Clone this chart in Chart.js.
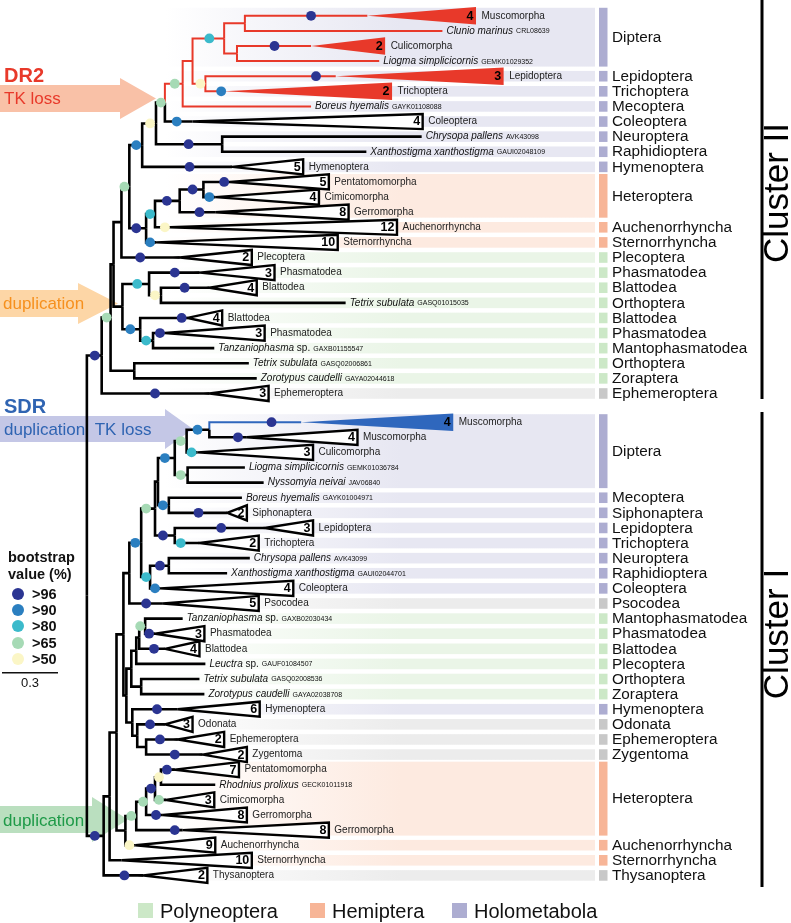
<!DOCTYPE html>
<html><head><meta charset="utf-8">
<script src="https://cdn.jsdelivr.net/npm/chart.js@4/dist/chart.umd.min.js"></script>
<style>html,body{margin:0;padding:0;background:#fff;}canvas{display:block;}</style>
</head><body>
<canvas id="c" width="791" height="923"></canvas>
<script>
// ---------------- DATA ----------------
// leaves, top to bottom (0-25 Cluster II, 26-56 Cluster I)
const leafLabel = [
 'Muscomorpha','Clunio marinus','Culicomorpha','Liogma simplicicornis','Lepidoptera','Trichoptera','Boreus hyemalis','Coleoptera','Chrysopa pallens','Xanthostigma xanthostigma',
 'Hymenoptera','Pentatomomorpha','Cimicomorpha','Gerromorpha','Auchenorrhyncha','Sternorrhyncha','Plecoptera','Phasmatodea','Blattodea','Tetrix subulata',
 'Blattodea','Phasmatodea','Tanzaniophasma sp.','Tetrix subulata','Zorotypus caudelli','Ephemeroptera','Muscomorpha','Muscomorpha','Culicomorpha','Liogma simplicicornis',
 'Nyssomyia neivai','Boreus hyemalis','Siphonaptera','Lepidoptera','Trichoptera','Chrysopa pallens','Xanthostigma xanthostigma','Coleoptera','Psocodea','Tanzaniophasma sp.',
 'Phasmatodea','Blattodea','Leuctra sp.','Tetrix subulata','Zorotypus caudelli','Hymenoptera','Odonata','Ephemeroptera','Zygentoma','Pentatomomorpha',
 'Rhodnius prolixus','Cimicomorpha','Gerromorpha','Gerromorpha','Auchenorrhyncha','Sternorrhyncha','Thysanoptera'];
const leafCode = [
 '','CRL08639','','GEMK01029352','','','GAYK01108088','','AVK43098','GAUI02048109',
 '','','','','','','','','','GASQ01015035',
 '','','GAXB01155547','GASQ02006861','GAYA02044618','','','','','GEMK01036784',
 'JAV06840','GAYK01004971','','','','AVK43099','GAUI02044701','','','GAXB02030434',
 '','','GAUF01084507','GASQ02008536','GAYA02038708','','','','','',
 'GECK01011918','','','','','',''];
// number of sequences in a collapsed clade (0 = single sequence)
const leafCount = [
 4,0,2,0,3,2,0,4,0,0,
 5,5,4,8,12,10,2,3,4,0,
 4,3,0,0,0,3,4,4,3,0,
 0,0,2,3,2,0,0,4,5,0,
 3,4,0,0,0,6,3,2,2,7,
 0,3,8,8,9,10,2];
// depth of the clade node / tip end (tree distance, drawing units)
const leafDepth = [
 367,443,310,379,335,222,310,190,422,366,
 230,228,213,213,167,153,177,197,207,345,
 185,162,212,247,255,207,300,245,195,243,
 262,240,225,263,197,248,225,157,160,180,
 152,162,203,197,202,175,162,175,200,172,
 213,163,160,180,132,118,140];
// farthest tip of a collapsed clade
const leafSpan = [
 477,0,385,0,505,392,0,423,0,0,
 302,328,318,348,397,337,250,273,255,0,
 220,263,0,0,0,267,454,357,312,0,
 0,0,245,312,257,0,0,292,257,0,
 202,197,0,0,0,258,190,222,245,237,
 0,212,245,328,213,250,205];
// bootstrap class: 5 >96, 4 >90, 3 >80, 2 >65, 1 >50, 0 none
const leafSupport = [
 5,0,5,0,5,4,0,4,0,0,
 5,5,4,5,1,4,5,5,5,0,
 5,5,0,0,0,5,5,5,3,0,
 0,0,5,5,3,0,0,4,5,0,
 5,5,0,0,0,5,5,5,5,5,
 0,2,5,5,1,0,5];
const leafSupportAt = [
 310,0,273,0,315,219,0,174,0,0,
 187,222,207,197,162,147,137,172,182,0,
 179,157,0,0,0,152,270,236,189,0,
 0,0,196,219,178,0,0,152,143,0,
 146,151,0,0,0,154,147,157,172,164,
 0,156,153,172,126,0,121];
const leafOrder = [
 'Diptera','Diptera','Diptera','Diptera','Lepidoptera','Trichoptera','Mecoptera','Coleoptera','Neuroptera','Raphidioptera',
 'Hymenoptera','Heteroptera','Heteroptera','Heteroptera','Auchenorrhyncha','Sternorrhyncha','Plecoptera','Phasmatodea','Blattodea','Orthoptera',
 'Blattodea','Phasmatodea','Mantophasmatodea','Orthoptera','Zoraptera','Ephemeroptera','Diptera','Diptera','Diptera','Diptera',
 'Diptera','Mecoptera','Siphonaptera','Lepidoptera','Trichoptera','Neuroptera','Raphidioptera','Coleoptera','Psocodea','Mantophasmatodea',
 'Phasmatodea','Blattodea','Plecoptera','Orthoptera','Zoraptera','Hymenoptera','Odonata','Ephemeroptera','Zygentoma','Heteroptera',
 'Heteroptera','Heteroptera','Heteroptera','Heteroptera','Auchenorrhyncha','Sternorrhyncha','Thysanoptera'];

// internal nodes
const nodeIds = ['root','R','S','V','U','K','J','H','A','B','C','D','F','G','E','I','L','M','N','O','AB','X','Y','Z','AA','T',
 'CI0','CI1','Q2','X1','YP','HP','HOLO','D5','D4','D2','D1','SDR','LN','ME','LT','NC','CX','PN4','PN3','PN2','PN1','TZ','HOEZ','OEZ','EZ','CI3','HD','HA','HB','HC'];
const nodeDepth = [83,98,107,110,118,126,139,153,162,180,190,222,243,235,203,220,143,152,177,201,119,146,158,137,150,131,
 100,106,113,120,123,126,138,152,155,172,184,207,185,166,172,147,166,128,133,136,142,138,129,134,143,122,133,143,152,158];
const nodeKids = [['R','CI0'],['S',25],['V','T'],['U','AB'],['K',16],['J','L'],['H',10],['A','I'],['B',7],['C',6],['D','E'],['F','G'],[0,1],[2,3],[4,5],[8,9],['M',15],['N',14],['O',13],[11,12],['X','Z'],[17,'Y'],[18,19],[20,'AA'],[21,22],[23,24],
 ['CI1',56],['Q2',55],['X1','CI3'],['HP','YP'],['PN4','HOEZ'],['HOLO',38],['D5','NC'],['D4','LT'],['D2','ME'],['D1','LN'],['SDR',28],[26,27],[29,30],[31,32],[33,34],['CX',37],[35,36],['PN3','TZ'],['PN2',42],['PN1',41],[39,40],[43,44],[45,'OEZ'],[46,'EZ'],[47,48],['HD',54],['HA',53],['HB',52],['HC',51],[49,50]];
const nodeSupport = [0,5,2,0,0,2,4,1,2,2,0,3,0,0,1,5,5,3,5,5,0,3,1,4,3,0,
 5,0,0,0,0,0,4,2,0,4,2,4,2,4,5,3,5,0,0,0,2,0,0,0,0,0,2,2,5,1];
const nodeSupportAt = [0,91,103,0,0,121,133,147,158,172,0,207,0,0,198,186,133,147,164,190,0,134,152,127,143,0,
 91,0,0,0,0,0,132,143,0,162,178,195,178,160,160,143,157,0,0,0,137,0,0,0,0,0,128,140,148,156];

const supportClasses = ['>96','>90','>80','>65','>50'];
const legendGroups = ['Polyneoptera','Hemiptera','Holometabola'];

// ---------------- STYLE ----------------
const FONT = '"Liberation Sans", Arial, Helvetica, sans-serif';
const RED = '#e8392a', BLUE = '#2f67bd';
const SUPPORT_COLORS = {5:'#2b3592',4:'#2b7fc0',3:'#3bbacb',2:'#a6dab5',1:'#fbf6c6'};
const GROUP_OF = {Diptera:'holo',Lepidoptera:'holo',Trichoptera:'holo',Mecoptera:'holo',Coleoptera:'holo',Neuroptera:'holo',Raphidioptera:'holo',Hymenoptera:'holo',Siphonaptera:'holo',
 Heteroptera:'hemi',Auchenorrhyncha:'hemi',Sternorrhyncha:'hemi',
 Plecoptera:'poly',Phasmatodea:'poly',Blattodea:'poly',Orthoptera:'poly',Mantophasmatodea:'poly',Zoraptera:'poly',
 Ephemeroptera:'grey',Psocodea:'grey',Odonata:'grey',Zygentoma:'grey',Thysanoptera:'grey'};
const BAND = {holo:[231,231,242],hemi:[253,234,224],poly:[234,245,231],grey:[236,236,236]};
const SQUARE = {holo:'#adadd1',hemi:'#f7b597',poly:'#cce8c7',grey:'#c8c8c8'};
const CLUSTER_SPLIT = 26, CLUSTER_GAP = 0.9;

// ---------------- TREE GEOMETRY ----------------
const leafRow = i => i < CLUSTER_SPLIT ? i : i + CLUSTER_GAP;
const nIdx = Object.fromEntries(nodeIds.map((n,i)=>[n,i]));
const memo = {};
function kidRow(k){
  if (typeof k === 'number') return leafRow(k);
  if (memo[k] !== undefined) return memo[k];
  const ks = nodeKids[nIdx[k]];
  return memo[k] = (kidRow(ks[0]) + kidRow(ks[ks.length-1])) / 2;
}
const kidDepth = k => typeof k === 'number' ? leafDepth[k] : nodeDepth[nIdx[k]];
const redSet = new Set();
(function mark(k){ if (typeof k === 'number') return; redSet.add(k); nodeKids[nIdx[k]].forEach(mark); })('B');
const leafColor = {};
nodeIds.forEach((id,i)=>nodeKids[i].forEach(k=>{ if (typeof k==='number' && redSet.has(id)) leafColor[k]=RED; }));
leafColor[26] = BLUE;

const datasets = [];
// support dots (drawn on top)
const dotData = [], dotCol = [];
nodeIds.forEach((id,i)=>{ if (nodeSupport[i]) { dotData.push({x:nodeSupportAt[i], y:kidRow(id)}); dotCol.push(SUPPORT_COLORS[nodeSupport[i]]); }});
leafSupport.forEach((s,i)=>{ if (s) { dotData.push({x:leafSupportAt[i], y:leafRow(i)}); dotCol.push(SUPPORT_COLORS[s]); }});
datasets.push({data:dotData, showLine:false, pointRadius:4.9, pointHoverRadius:4.9, pointBackgroundColor:dotCol, pointBorderWidth:0, pointBorderColor:'rgba(0,0,0,0)', order:0});
// branches
nodeIds.forEach((id,i)=>{
  nodeKids[i].forEach(k=>{
    let color = '#000', w = 2.6;
    if (redSet.has(id) || (id==='A' && k==='B')) { color = RED; w = 2; }
    if (id==='SDR' && k===26) { color = BLUE; w = 2; }
    datasets.push({data:[{x:nodeDepth[i],y:kidRow(id)},{x:nodeDepth[i],y:kidRow(k)},{x:kidDepth(k),y:kidRow(k)}],
      showLine:true, borderColor:color, borderWidth:w, pointRadius:0, pointHoverRadius:0, fill:false, tension:0,
      borderJoinStyle:'miter', borderCapStyle:'butt', order:2});
  });
});

// ---------------- DRAWING PLUGIN ----------------
function rgba(c,a){ return 'rgba('+c[0]+','+c[1]+','+c[2]+','+a+')'; }
function blocksOf(){
  const b = [];
  leafOrder.forEach((o,i)=>{ const l=b[b.length-1]; if (l && l.order===o && i!==CLUSTER_SPLIT) l.end=i; else b.push({order:o,start:i,end:i}); });
  return b;
}
function arrow(ctx, color, x1, yTop, yBot, headTop, headBot, tipX){
  const ym = (yTop+yBot)/2;
  ctx.fillStyle = color; ctx.beginPath();
  ctx.moveTo(0,yTop); ctx.lineTo(x1,yTop); ctx.lineTo(x1,headTop); ctx.lineTo(tipX,ym); ctx.lineTo(x1,headBot); ctx.lineTo(x1,yBot); ctx.lineTo(0,yBot);
  ctx.closePath(); ctx.fill();
}
const treePlugin = {
  id:'tree',
  beforeDraw(chart){ const c=chart.ctx; c.save(); c.fillStyle='#fff'; c.fillRect(0,0,chart.width,chart.height); c.restore(); },
  beforeDatasetsDraw(chart){
    const ctx = chart.ctx, X = v=>chart.scales.x.getPixelForValue(v), Y = v=>chart.scales.y.getPixelForValue(v);
    ctx.save();
    // bands + order squares
    blocksOf().forEach(b=>{
      const g = GROUP_OF[b.order], multi = b.end>b.start;
      const y0 = Y(leafRow(b.start)) - (multi?8:5.3), y1 = Y(leafRow(b.end)) + (multi?5.5:5.3);
      const grad = ctx.createLinearGradient(165,0,400,0);
      grad.addColorStop(0, rgba(BAND[g],0)); grad.addColorStop(1, rgba(BAND[g],1));
      ctx.fillStyle = grad; ctx.fillRect(165,y0,595-165,y1-y0);
      ctx.fillStyle = SQUARE[g]; ctx.fillRect(599,y0,8.5,y1-y0);
    });
    // annotation arrows
    arrow(ctx,'#f9c1a7',120,85,112,78,119,156);
    arrow(ctx,'#fdd6a6',78,290,317,283,324,118);
    arrow(ctx,'#c4c7e6',165,416,442,409,449,193);
    arrow(ctx,'#badfbf',92,806,833,797,842,128);
    ctx.textBaseline='alphabetic'; ctx.textAlign='left';
    ctx.fillStyle=RED; ctx.font='bold 20px '+FONT; ctx.fillText('DR2',4,82);
    ctx.font='17px '+FONT; ctx.fillText('TK loss',4,104);
    ctx.fillStyle='#f6901e'; ctx.font='17px '+FONT; ctx.fillText('duplication',3,309);
    ctx.fillStyle='#2f64b2'; ctx.font='bold 20px '+FONT; ctx.fillText('SDR',4,413);
    ctx.font='17px '+FONT; ctx.fillText('duplication  TK loss',4,435);
    ctx.fillStyle='#1e9a48'; ctx.font='17px '+FONT; ctx.fillText('duplication',3,826);
    // collapsed clades
    leafCount.forEach((n,i)=>{
      if (!n) return;
      const fill = leafColor[i];
      const h = fill ? 0.58 : 0.5;
      const x0 = X(leafDepth[i]), x1 = X(leafSpan[i]);
      ctx.beginPath(); ctx.moveTo(x0,Y(leafRow(i))); ctx.lineTo(x1,Y(leafRow(i)-h)); ctx.lineTo(x1,Y(leafRow(i)+h)); ctx.closePath();
      if (fill) { ctx.fillStyle=fill; ctx.fill(); }
      else { ctx.fillStyle='#fff'; ctx.fill(); ctx.strokeStyle='#000'; ctx.lineWidth=2.4; ctx.lineJoin='miter'; ctx.stroke(); }
    });
    ctx.restore();
  },
  afterDatasetsDraw(chart){
    const ctx = chart.ctx, X = v=>chart.scales.x.getPixelForValue(v), Y = v=>chart.scales.y.getPixelForValue(v);
    ctx.save(); ctx.fillStyle='#111'; ctx.textBaseline='middle';
    leafLabel.forEach((lab,i)=>{
      const y = Y(leafRow(i));
      if (leafCount[i]) {
        ctx.textAlign='right'; ctx.font='bold 12.5px '+FONT; ctx.fillStyle='#000';
        ctx.fillText(String(leafCount[i]), X(leafSpan[i])-2.5, y+0.5);
        ctx.textAlign='left'; ctx.font='10px '+FONT; ctx.fillStyle='#222';
        ctx.fillText(lab, X(leafSpan[i])+5.5, y);
      } else {
        ctx.textAlign='left'; ctx.fillStyle='#111';
        let name = lab, suf = '';
        if (lab.endsWith(' sp.')) { name = lab.slice(0,-4); suf = ' sp.'; }
        let x = X(leafDepth[i]) + 4;
        ctx.font='italic 10px '+FONT; ctx.fillText(name,x,y); x += ctx.measureText(name).width;
        if (suf) { ctx.font='10px '+FONT; ctx.fillText(suf,x,y); x += ctx.measureText(suf).width; }
        ctx.font='7px '+FONT; ctx.fillText(leafCode[i], x+3, y+0.5);
      }
    });
    // order labels
    ctx.textAlign='left'; ctx.fillStyle='#111'; ctx.font='15.3px '+FONT;
    blocksOf().forEach(b=>{
      const multi = b.end>b.start;
      const y0 = Y(leafRow(b.start)) - (multi?8:5.3), y1 = Y(leafRow(b.end)) + (multi?5.5:5.3);
      ctx.fillText(b.order, 612, (y0+y1)/2 + 0.5);
    });
    // cluster brackets
    ctx.fillStyle='#000';
    ctx.fillRect(760.5,0,3,399); ctx.fillRect(760.5,412,3,475);
    ctx.font='35px '+FONT; ctx.textAlign='center';
    [['Cluster II',193],['Cluster I',634]].forEach(([t,cy])=>{ ctx.save(); ctx.translate(778,cy); ctx.rotate(-Math.PI/2); ctx.fillText(t,0,0); ctx.restore(); });
    // bootstrap legend
    ctx.textAlign='left'; ctx.textBaseline='alphabetic'; ctx.fillStyle='#111';
    ctx.font='bold 14.5px '+FONT; ctx.fillText('bootstrap',8,562); ctx.fillText('value (%)',8,579);
    const lc = [5,4,3,2,1], ly = [594,610,626,643,659];
    supportClasses.forEach((s,k)=>{
      ctx.fillStyle=SUPPORT_COLORS[lc[k]]; ctx.beginPath(); ctx.arc(18,ly[k],6,0,Math.PI*2); ctx.fill();
      ctx.fillStyle='#111'; ctx.font='bold 14.5px '+FONT; ctx.fillText(s,32,ly[k]+5);
    });
    ctx.fillStyle='#111'; ctx.fillRect(2,672,56,1.5);
    ctx.font='13px '+FONT; ctx.textAlign='center'; ctx.fillText('0.3',30,687);
    // group legend
    ctx.textAlign='left'; ctx.font='20px '+FONT;
    const gx = [138,310,452], gk = ['poly','hemi','holo'];
    legendGroups.forEach((g,k)=>{
      ctx.fillStyle=SQUARE[gk[k]]; ctx.fillRect(gx[k],903,15,15);
      ctx.fillStyle='#111'; ctx.fillText(g,gx[k]+22,918);
    });
    ctx.restore();
  }
};

new Chart(document.getElementById('c'), {
  type:'scatter',
  data:{datasets},
  options:{
    responsive:false, animation:false, events:[],
    layout:{padding:0},
    plugins:{legend:{display:false}, tooltip:{enabled:false}},
    scales:{
      x:{type:'linear', min:0, max:791, display:false},
      y:{type:'linear', min:-0.7204, max:59.7247, reverse:true, display:false}
    }
  },
  plugins:[treePlugin]
});
</script>
</body></html>
